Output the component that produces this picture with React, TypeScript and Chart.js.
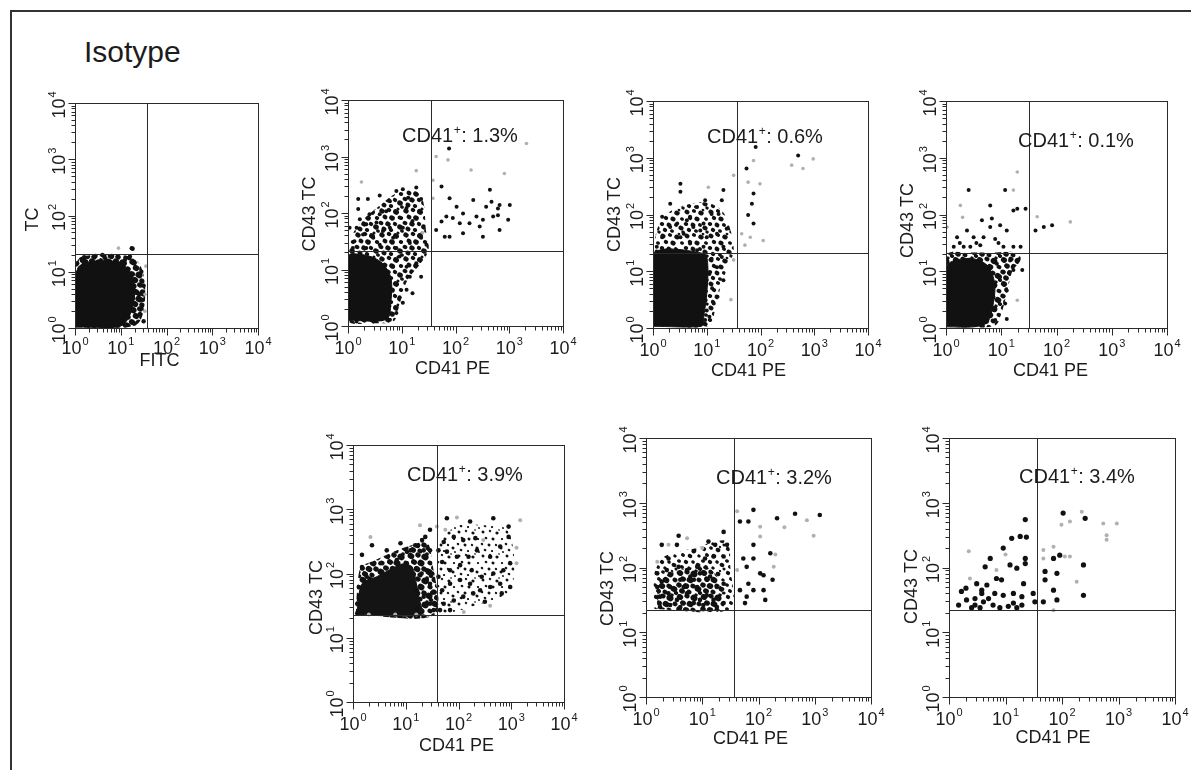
import React, { useEffect, useRef } from "react";
import { Chart, registerables } from "chart.js";

Chart.register(...registerables);

type Pt = [number, number]; // [x, y] in decades (log10 of intensity)

// ---------- axes / text ----------
const axisMin = 1;
const axisMax = 10000;
const decadeExponents = ["0", "1", "2", "3", "4"];
const xTitles = ["FITC", "CD41 PE", "CD41 PE", "CD41 PE", "CD41 PE", "CD41 PE", "CD41 PE"];
const yTitles = ["TC", "CD43 TC", "CD43 TC", "CD43 TC", "CD43 TC", "CD43 TC", "CD43 TC"];
const cd41Percent: (string | null)[] = [null, "1.3", "0.6", "0.1", "3.9", "3.2", "3.4"];
const gateX = [1.57, 1.55, 1.56, 1.51, 1.59, 1.56, 1.55];
const gateY = [1.32, 1.33, 1.32, 1.32, 1.35, 1.34, 1.34];
const panelTitle = "Isotype";

// ---------- panel 1 (isotype) ----------
const p1Core: Pt[] = [[0.02,0.02],[0.02,0.95],[0.12,1.12],[0.35,1.18],[0.7,1.2],[1.0,1.15],[1.2,1.0],[1.3,0.75],[1.28,0.45],[1.15,0.15],[0.95,0.02]];
const p1Haze: Pt[] = [[0.01,0.01],[0.01,1.05],[0.1,1.25],[0.4,1.3],[0.8,1.3],[1.15,1.28],[1.4,1.15],[1.52,0.85],[1.52,0.4],[1.4,0.1],[1.1,0.01]];
const p1Dots: Pt[] = [[0.05,1.15],[0.2,1.26],[0.45,1.28],[0.8,1.28],[1.1,1.25],[1.3,1.15],[1.45,1.0],[1.5,0.75],[1.48,0.5],[1.42,0.25],[1.3,0.08],[1.5,0.12],[1.2,1.27],[0.6,1.3],[0.3,0.05],[0.7,0.03],[1.1,0.05],[1.24,1.42],[1.26,1.41],[0.15,1.2],[1.4,0.6],[1.45,0.35]];
const p1Faint: Pt[] = [[0.95,1.42],[1.53,0.6],[1.53,0.3],[1.55,1.1]];

// ---------- panel 2 (1.3%) ----------
const p2Core: Pt[] = [[0.02,0.1],[0.02,1.25],[0.2,1.27],[0.45,1.22],[0.65,1.1],[0.8,0.85],[0.8,0.45],[0.72,0.12]];
const p2Haze: Pt[] = [[0.02,1.2],[0.05,1.55],[0.25,1.85],[0.55,2.1],[0.9,2.35],[1.25,2.4],[1.4,2.2],[1.45,1.7],[1.5,1.35],[1.35,1.1],[1.1,0.8],[0.95,0.35],[0.85,0.08],[0.5,0.05],[0.02,0.08]];
const p2Dots: Pt[] = [
  [0.19,2.25],[0.37,2.25],[0.59,2.31],[0.19,2.07],[0.22,1.89],[0.40,1.98],[0.53,1.83],[0.71,2.03],[0.78,2.21],[0.90,2.39],
  [1.02,2.42],[1.12,2.27],[1.27,2.45],[1.36,2.25],[1.33,2.04],[1.20,1.86],[1.02,1.74],[0.84,1.56],[0.65,1.68],[0.47,1.56],
  [0.28,1.62],[0.12,1.50],[0.09,1.38],[0.34,1.38],[0.59,1.44],[0.90,1.38],[1.15,1.47],[1.36,1.56],[1.46,1.44],[0.78,1.74],
  [0.96,1.92],[1.09,2.09],[0.59,1.98],[0.34,1.80],[0.16,1.74],[0.03,1.74],
  [0.96,1.23],[1.09,1.05],[1.15,0.87],[1.09,0.64],[1.02,0.41],[0.90,0.23],[1.27,1.11],[1.36,0.87],[1.20,0.58],[0.84,1.05],
  [0.90,0.75],[0.96,0.51],[0.78,0.11],[0.47,0.08],[0.16,0.08],
  [1.88,3.14],[1.74,2.47],[1.89,2.26],[2.02,2.11],[2.14,1.99],[1.83,1.94],[1.74,1.85],[1.64,1.70],[1.89,1.58],[2.08,1.82],
  [2.14,1.64],[2.33,2.23],[2.39,1.94],[2.45,1.76],[2.64,2.41],[2.57,2.11],[2.70,1.94],[2.79,2.08],[2.82,2.14],[3.01,2.14],
  [2.82,1.70],[2.98,1.88],[2.51,1.58],[2.26,1.82],[2.51,1.88],[2.67,2.20],[2.79,1.96],[1.95,1.91],[1.80,1.58]
];
const p2Faint: Pt[] = [[1.64,3.0],[1.86,2.94],[2.29,2.76],[1.58,2.58],[1.58,2.26],[2.91,2.70],[3.32,3.23],[1.27,2.75],[0.25,2.55],[1.39,1.65]];

// ---------- panel 3 (0.6%) ----------
const p3Core: Pt[] = [[0.01,0.03],[0.01,1.31],[0.95,1.31],[1.02,1.1],[1.0,0.6],[0.95,0.25],[0.9,0.03]];
const p3Haze: Pt[] = [[0.02,1.3],[0.04,1.6],[0.15,1.9],[0.4,2.1],[0.75,2.2],[1.05,2.2],[1.3,2.05],[1.45,1.7],[1.5,1.33],[1.4,1.1],[1.25,0.7],[1.15,0.3],[1.05,0.03],[0.5,0.02]];
const p3Dots: Pt[] = [
  [1.09,1.22],[1.19,1.07],[1.31,0.84],[1.13,0.43],[1.0,0.31],[0.97,0.14],[1.28,1.25],[1.1,0.7],[1.05,0.95],[1.2,0.55],[1.05,0.2],
  [0.51,2.54],[0.51,2.40],[0.32,2.19],[0.17,1.96],[0.32,1.78],[0.17,1.60],[0.51,1.60],[0.69,1.96],[0.82,2.13],[0.97,2.25],
  [0.75,1.78],[0.94,1.84],[1.09,2.01],[1.22,2.01],[1.28,2.25],[1.31,2.43],[0.57,1.66],[0.69,1.49],[0.38,1.49],[0.07,1.43],
  [0.26,1.37],[1.0,1.60],[1.19,1.66],[1.37,1.75],[0.94,1.43],[1.31,1.43],[0.82,1.37],[0.63,1.90],[0.45,1.84],[0.88,1.72],
  [1.74,2.81],[1.91,3.19],[1.87,2.37],[1.84,2.19],[1.77,1.99],[1.87,1.84],[2.70,3.04]
];
const p3Faint: Pt[] = [[1.87,2.95],[1.77,2.57],[1.99,2.54],[1.81,1.60],[1.65,1.66],[2.05,1.54],[1.71,1.46],[2.98,2.98],[2.79,2.81],[2.58,2.87],[1.50,2.69],[1.03,2.48],[1.5,1.2],[1.45,0.5]];

// ---------- panel 4 (0.1%) ----------
const p4Core: Pt[] = [[0.02,0.02],[0.02,1.1],[0.2,1.2],[0.5,1.22],[0.75,1.1],[0.88,0.8],[0.86,0.45],[0.75,0.1],[0.5,0.02]];
const p4Haze: Pt[] = [[0.02,0.9],[0.03,1.31],[0.4,1.33],[0.9,1.33],[1.3,1.33],[1.35,1.2],[1.2,1.0],[1.1,0.6],[1.0,0.25],[0.9,0.05],[0.5,0.02]];
const p4Dots: Pt[] = [
  [0.92,1.13],[0.98,0.90],[1.04,0.99],[1.10,0.66],[1.07,0.43],[0.89,0.14],[1.16,1.19],[1.22,1.02],[1.38,1.02],[1.10,0.16],
  [0.41,2.43],[0.80,2.16],[0.65,1.90],[0.83,1.93],[0.98,1.81],[1.10,1.72],[1.22,2.07],[1.29,2.10],[1.44,2.10],[1.07,2.43],
  [0.38,1.72],[0.20,1.60],[0.50,1.60],[0.68,1.60],[0.89,1.57],[0.62,1.46],[0.44,1.43],[0.14,1.43],[1.04,1.43],[1.22,1.43],
  [1.35,1.43],[0.80,1.78],[0.32,1.43],[0.55,1.50],[0.95,1.50],[0.25,1.50],
  [1.62,1.72],[1.77,1.78],[1.92,1.81]
];
const p4Faint: Pt[] = [[0.26,2.16],[1.22,2.43],[1.29,2.75],[1.29,0.49],[0.02,1.78],[1.65,1.96],[2.25,1.87],[0.3,1.95]];

// ---------- panel 5 (3.9%) ----------
const p5Core: Pt[] = [[0.08,1.36],[0.1,1.6],[0.18,1.85],[0.45,1.95],[0.75,2.08],[0.95,2.15],[1.12,2.1],[1.2,1.85],[1.25,1.6],[1.3,1.36]];
const p5Haze: Pt[] = [[0.05,1.36],[0.08,1.75],[0.15,2.1],[0.4,2.2],[0.8,2.35],[1.15,2.45],[1.4,2.5],[1.5,2.2],[1.55,1.36]];
const p5HazeRight: Pt[] = [[1.62,1.38],[1.6,2.35],[1.75,2.6],[2.0,2.75],[2.5,2.75],[2.9,2.7],[3.05,2.3],[3.0,1.75],[2.7,1.6],[2.3,1.5],[1.9,1.4]];
const p5Dots: Pt[] = [
  [0.17,2.29],[0.36,2.44],[0.17,2.10],[0.64,2.36],[0.90,2.47],[1.09,2.36],[1.18,2.44],[1.31,2.52],[1.37,2.57],[1.34,2.36],
  [1.46,2.36],[1.27,2.16],[1.40,2.05],[1.46,1.84],[1.21,1.74],[1.34,1.64],[1.46,1.53],[1.21,1.45],[1.53,1.43],[1.02,2.16],
  [0.83,2.21],[0.52,2.16],[0.26,1.95],[0.11,1.79],[0.08,1.53],[0.08,1.38],[1.46,2.68],[1.4,1.9],[1.5,1.7],[1.3,2.0],[1.5,2.0],
  [1.78,2.86],[2.22,2.81],[1.72,2.49],[1.91,2.57],[2.09,2.52],[2.32,2.55],[2.66,2.86],[2.95,2.73],[2.95,2.57],[2.79,2.42],
  [2.60,2.26],[2.35,2.36],[2.19,2.26],[1.97,2.26],[1.78,2.34],[1.69,2.18],[1.84,2.05],[2.03,2.13],[2.25,2.05],[2.44,1.95],
  [2.66,2.00],[2.85,2.05],[2.98,2.16],[2.79,1.84],[2.60,1.79],[2.41,1.74],[2.22,1.84],[2.03,1.90],[1.84,1.84],[1.69,1.74],
  [1.72,1.53],[1.91,1.58],[2.09,1.64],[2.28,1.69],[2.50,1.56],[2.82,1.69],[2.98,1.79],[1.65,1.43],[1.84,1.43],[1.62,1.95],[1.62,2.36]
];
const p5Faint: Pt[] = [[1.59,2.73],[0.33,2.57],[1.27,2.75],[0.3,1.36],[0.8,1.36],[1.2,1.36],[1.97,2.87],[1.75,2.68],[3.17,2.83],[2.47,2.52],[3.10,2.16],[2.1,1.4],[2.6,1.5],[3.1,2.4]];

// ---------- panel 6 (3.2%) ----------
const p6Core: Pt[] = [[0.2,1.36],[0.22,1.75],[0.4,1.9],[0.8,2.0],[1.1,2.0],[1.3,1.8],[1.35,1.36]];
const p6Haze: Pt[] = [[0.15,1.36],[0.15,1.9],[0.3,2.15],[0.6,2.25],[0.9,2.3],[1.2,2.4],[1.45,2.4],[1.5,2.0],[1.5,1.36]];
const p6Dots: Pt[] = [
  [0.28,2.35],[0.58,2.49],[0.55,2.35],[0.40,2.14],[0.20,1.91],[0.37,1.96],[0.58,2.01],[0.85,2.25],[1.11,2.40],[1.23,2.35],
  [1.38,2.55],[1.44,2.35],[1.05,2.14],[1.20,2.17],[1.38,2.17],[0.91,2.01],[0.73,1.96],[0.28,1.78],[0.43,1.70],[0.61,1.81],
  [0.79,1.86],[0.96,1.91],[1.14,1.86],[1.26,1.70],[1.38,1.75],[0.25,1.55],[0.40,1.60],[0.55,1.50],[0.73,1.60],[0.91,1.70],
  [1.08,1.57],[1.20,1.50],[1.38,1.45],[0.25,1.39],[0.43,1.42],[0.61,1.39],[0.85,1.45],[1.02,1.42],[1.26,1.39],[0.96,1.50],
  [0.85,1.81],[0.67,1.70],[1.08,1.81],[0.20,1.70],
  [1.91,2.89],[1.82,2.71],[1.67,2.71],[1.91,2.35],[1.73,2.14],[1.91,2.14],[1.79,2.01],[2.09,1.88],[1.82,1.75],[1.67,1.65],
  [1.79,1.55],[1.91,1.65],[2.09,1.65],[2.12,1.50],[1.76,1.45],[2.21,2.22],[2.25,1.81],[2.33,2.76],[2.65,2.83],[3.09,2.81],[2.03,1.91]
];
const p6Faint: Pt[] = [[0.40,2.35],[0.73,2.45],[0.20,2.09],[1.0,2.3],[1.62,2.87],[2.03,2.63],[2.03,2.48],[2.27,2.01],[2.46,2.62],[2.86,2.73],[2.98,2.49],[1.62,1.96],[2.3,2.2]];

// ---------- panel 7 (3.4%) ----------
const p7Dots: Pt[] = [
  [1.35,2.74],[1.26,2.48],[1.37,2.47],[1.11,2.45],[0.96,2.30],[0.73,2.14],[0.64,2.01],[0.30,1.68],[0.49,1.75],[0.58,1.65],
  [0.67,1.73],[0.84,1.83],[0.93,1.81],[1.08,2.04],[1.20,1.99],[1.35,2.14],[1.35,2.06],[0.31,1.50],[0.46,1.52],[0.58,1.60],
  [0.70,1.52],[0.81,1.60],[0.96,1.57],[1.14,1.60],[1.29,1.55],[1.32,1.75],[0.46,1.42],[0.61,1.47],[0.78,1.42],[1.14,1.45],
  [1.29,1.42],[0.17,1.42],[1.49,1.60],[1.52,1.47],[0.22,1.63],[0.40,1.38],[0.90,1.38],[1.05,1.40],[0.55,1.38],[1.20,1.38],
  [2.02,2.84],[2.41,2.76],[1.85,2.14],[1.96,2.19],[2.38,2.04],[1.70,1.94],[1.91,1.91],[1.70,1.81],[1.85,1.65],[1.91,1.50],
  [1.67,1.47],[2.38,1.57]
];
const p7Faint: Pt[] = [[0.37,1.83],[0.84,1.96],[0.35,2.25],[1.0,2.2],[2.35,2.86],[2.14,2.71],[1.99,2.66],[2.73,2.68],[2.97,2.68],[2.79,2.50],[2.79,2.43],[1.67,2.27],[1.85,2.32],[1.67,2.14],[2.05,2.17],[2.14,2.17],[2.26,1.78],[1.85,1.34]];

// ---------- layout / styling (page pixels) ----------
const FONT = '"Liberation Sans", Arial, Helvetica, sans-serif';
const PADL = 65, PADT = 12, PADR = 14, PADB = 55;

// stipple texture used to render dense event regions (styling only)
const TILE = 24;
const STIPPLE: [number, number, number][] = [
  [3,3,2.2],[10,2,1.8],[17,4,2.4],[22,10,1.7],[6,9,2.0],[13,10,2.3],[2,15,1.9],
  [9,16,2.2],[16,16,1.8],[21,19,2.3],[5,21,2.0],[12,22,1.7],[19,1,1.2],[23,23,1.5],
];

function makeStipple(scale: number): CanvasPattern | string {
  const c = document.createElement("canvas");
  c.width = TILE; c.height = TILE;
  const g = c.getContext("2d");
  if (!g) return "#777";
  g.fillStyle = "#fff";
  g.fillRect(0, 0, TILE, TILE);
  g.fillStyle = "#111";
  for (const [x, y, r] of STIPPLE) {
    for (let dx = -1; dx <= 1; dx++) for (let dy = -1; dy <= 1; dy++) {
      g.beginPath();
      g.ellipse(x + dx * TILE, y + dy * TILE, r * scale * 1.15, r * scale, 0.5, 0, Math.PI * 2);
      g.fill();
    }
  }
  const p = g.createPattern(c, "repeat");
  return p || "#777";
}

interface Layer { pts: Pt[]; kind: "dots" | "faint" | "core" | "haze"; color?: string; r?: number; stipple?: number }
interface PanelLayout { box: [number, number, number, number]; xT: [number, number]; yT: [number, number]; note?: [number, number]; layers: Layer[] }

const PANELS: PanelLayout[] = [
  { box: [75, 103, 258, 328], xT: [-7, 37], yT: [4, 37], layers: [
    { pts: p1Dots, kind: "dots", color: "#111", r: 2.2 }, { pts: p1Faint, kind: "faint", color: "#b0b0b0", r: 1.8 },
    { pts: p1Core, kind: "core", color: "#111" }, { pts: p1Haze, kind: "haze", stipple: 1.45 } ] },
  { box: [348, 100, 563, 326], xT: [-3, 47], yT: [1, 33], note: [402, 142], layers: [
    { pts: p2Dots, kind: "dots", color: "#111", r: 2.0 }, { pts: p2Faint, kind: "faint", color: "#b0b0b0", r: 1.8 },
    { pts: p2Core, kind: "core", color: "#111" }, { pts: p2Haze, kind: "haze", stipple: 1.1 } ] },
  { box: [653, 101, 868, 328], xT: [-12, 47], yT: [0, 33], note: [707, 143], layers: [
    { pts: p3Dots, kind: "dots", color: "#111", r: 2.0 }, { pts: p3Faint, kind: "faint", color: "#b0b0b0", r: 1.8 },
    { pts: p3Core, kind: "core", color: "#111" }, { pts: p3Haze, kind: "haze", stipple: 1.0 } ] },
  { box: [946, 101, 1167, 328], xT: [-6, 47], yT: [6, 33], note: [1018, 147], layers: [
    { pts: p4Dots, kind: "dots", color: "#111", r: 2.0 }, { pts: p4Faint, kind: "faint", color: "#b0b0b0", r: 1.8 },
    { pts: p4Core, kind: "core", color: "#111" }, { pts: p4Haze, kind: "haze", stipple: 1.25 } ] },
  { box: [353, 445, 564, 702], xT: [-2, 48], yT: [24, 31], note: [407, 481], layers: [
    { pts: p5Dots, kind: "dots", color: "#111", r: 2.3 }, { pts: p5Faint, kind: "faint", color: "#b0b0b0", r: 2.0 },
    { pts: p5Core, kind: "core", color: "#141414" }, { pts: p5Haze, kind: "haze", stipple: 1.35 },
    { pts: p5HazeRight, kind: "haze", stipple: 0.6 } ] },
  { box: [646, 438, 871, 697], xT: [-8, 46], yT: [21, 33], note: [716, 484], layers: [
    { pts: p6Dots, kind: "dots", color: "#111", r: 2.3 }, { pts: p6Faint, kind: "faint", color: "#b0b0b0", r: 2.0 },
    { pts: p6Core, kind: "haze", stipple: 1.3 }, { pts: p6Haze, kind: "haze", stipple: 0.9 } ] },
  { box: [949, 438, 1175, 697], xT: [-9, 45], yT: [19, 32], note: [1019, 483], layers: [
    { pts: p7Dots, kind: "dots", color: "#111", r: 2.6 }, { pts: p7Faint, kind: "faint", color: "#b0b0b0", r: 2.0 } ] },
];

const toXY = (pts: Pt[], close = false) => {
  const out = pts.map(([a, b]) => ({ x: 10 ** a, y: 10 ** b }));
  if (close && out.length) out.push({ ...out[0] });
  return out;
};

function decorPlugin(i: number) {
  const lay = PANELS[i];
  const cLeft = lay.box[0] - PADL;
  const cTop = lay.box[1] - PADT;
  return {
    id: "flowDecor" + i,
    afterDraw(chart: any) {
      const { ctx, chartArea: a } = chart;
      const xs = chart.scales.x, ys = chart.scales.y;
      ctx.save();
      ctx.strokeStyle = "#2a2a2a";
      ctx.lineWidth = 1;
      const l = Math.round(a.left) + 0.5, r = Math.round(a.right) + 0.5;
      const t = Math.round(a.top) + 0.5, b = Math.round(a.bottom) + 0.5;
      const gx = Math.round(xs.getPixelForValue(10 ** gateX[i])) + 0.5;
      const gy = Math.round(ys.getPixelForValue(10 ** gateY[i])) + 0.5;
      ctx.beginPath();
      ctx.moveTo(gx, t); ctx.lineTo(gx, b);
      ctx.moveTo(l, gy); ctx.lineTo(r, gy);
      ctx.stroke();
      ctx.strokeRect(l, t, r - l, b - t);
      ctx.beginPath();
      const nDec = decadeExponents.length;
      for (let e = 0; e < nDec; e++) {
        for (let k = 1; k <= 9; k++) {
          if (e === nDec - 1 && k > 1) break;
          const v = k * 10 ** e;
          const len = k === 1 ? 7 : 4;
          const px = Math.round(xs.getPixelForValue(v)) + 0.5;
          const py = Math.round(ys.getPixelForValue(v)) + 0.5;
          ctx.moveTo(px, b); ctx.lineTo(px, b + len);
          ctx.moveTo(l, py); ctx.lineTo(l - len, py);
        }
      }
      ctx.stroke();
      const big = `18px ${FONT}`, small = `11px ${FONT}`;
      ctx.fillStyle = "#1c1c1c";
      ctx.textBaseline = "alphabetic";
      ctx.textAlign = "left";
      const labelDrop = i === 0 ? 25 : 27;
      decadeExponents.forEach((ex, e) => {
        const v = 10 ** e;
        ctx.font = big; const w1 = ctx.measureText("10").width;
        ctx.font = small; const w2 = ctx.measureText(ex).width;
        const tot = w1 + 1 + w2;
        const px = xs.getPixelForValue(v);
        ctx.font = big; ctx.fillText("10", px - tot / 2, b + labelDrop);
        ctx.font = small; ctx.fillText(ex, px - tot / 2 + w1 + 1, b + labelDrop - 9);
        const py = ys.getPixelForValue(v);
        ctx.save();
        ctx.translate(l - 11, py + 2);
        ctx.rotate(-Math.PI / 2);
        ctx.font = big; ctx.fillText("10", -tot / 2, 0);
        ctx.font = small; ctx.fillText(ex, -tot / 2 + w1 + 1, -9);
        ctx.restore();
      });
      ctx.font = `18px ${FONT}`;
      ctx.textAlign = "center";
      ctx.fillText(xTitles[i], (a.left + a.right) / 2 + lay.xT[0], b + lay.xT[1]);
      ctx.save();
      ctx.translate(a.left - lay.yT[1], (a.top + a.bottom) / 2 + lay.yT[0]);
      ctx.rotate(-Math.PI / 2);
      ctx.fillText(yTitles[i], 0, 0);
      ctx.restore();
      const pct = cd41Percent[i];
      if (pct && lay.note) {
        const nx = lay.note[0] - cLeft, ny = lay.note[1] - cTop;
        ctx.textAlign = "left";
        ctx.fillStyle = "#1c1c1c";
        ctx.font = `20px ${FONT}`;
        ctx.fillText("CD41", nx, ny);
        const w = ctx.measureText("CD41").width;
        ctx.font = `12px ${FONT}`;
        ctx.fillText("+", nx + w + 0.5, ny - 8);
        const w2 = ctx.measureText("+").width;
        ctx.font = `20px ${FONT}`;
        ctx.fillText(`: ${pct}%`, nx + w + w2 + 1, ny);
      }
      ctx.restore();
    },
  };
}

function FlowPanel({ index }: { index: number }) {
  const ref = useRef<HTMLCanvasElement | null>(null);
  const lay = PANELS[index];
  const [L, T, R, B] = lay.box;
  const W = R - L + PADL + PADR;
  const H = B - T + PADT + PADB;

  useEffect(() => {
    if (!ref.current) return;
    const datasets: any[] = lay.layers.map((ly, k) => {
      if (ly.kind === "dots" || ly.kind === "faint") {
        return {
          type: "scatter",
          data: toXY(ly.pts),
          pointRadius: ly.r ?? 2,
          pointBackgroundColor: ly.color,
          pointBorderWidth: 0,
          pointBorderColor: ly.color,
          order: k,
        };
      }
      const fillStyle = ly.stipple ? makeStipple(ly.stipple) : ly.color;
      return {
        type: "line",
        data: toXY(ly.pts, true),
        fill: "shape",
        backgroundColor: fillStyle,
        borderColor: ly.stipple ? "rgba(0,0,0,0)" : ly.color,
        borderWidth: ly.stipple ? 0 : 1,
        pointRadius: 0,
        tension: 0.3,
        order: k,
      };
    });
    const chart = new Chart(ref.current, {
      type: "scatter",
      data: { datasets },
      options: {
        animation: false,
        responsive: false,
        devicePixelRatio: 1,
        events: [],
        layout: { padding: { left: 0, top: PADT, right: PADR, bottom: 0 } },
        plugins: { legend: { display: false }, tooltip: { enabled: false }, title: { display: false } },
        scales: {
          x: {
            type: "logarithmic", min: axisMin, max: axisMax,
            grid: { display: false }, border: { display: false }, ticks: { display: false },
            afterFit: (s: any) => { s.height = PADB; },
          },
          y: {
            type: "logarithmic", min: axisMin, max: axisMax,
            grid: { display: false }, border: { display: false }, ticks: { display: false },
            afterFit: (s: any) => { s.width = PADL; },
          },
        },
      } as any,
      plugins: [decorPlugin(index)],
    });
    return () => chart.destroy();
  }, [index]);

  return (
    <canvas
      ref={ref}
      width={W}
      height={H}
      style={{ position: "absolute", left: L - PADL, top: T - PADT, width: W, height: H }}
    />
  );
}

export default function App() {
  return (
    <div style={{ position: "absolute", left: 0, top: 0, width: 1191, height: 770, overflow: "hidden", background: "#fff" }}>
      <div style={{ position: "absolute", left: 10, top: 10, width: 1181, height: 760, borderLeft: "2px solid #333", borderTop: "2px solid #333", boxSizing: "border-box" }} />
      <div style={{ position: "absolute", left: 84, top: 37, fontFamily: FONT, fontSize: 30, lineHeight: "30px", color: "#1c1c1c", whiteSpace: "nowrap" }}>
        {panelTitle}
      </div>
      {PANELS.map((_, i) => (
        <FlowPanel key={i} index={i} />
      ))}
    </div>
  );
}
